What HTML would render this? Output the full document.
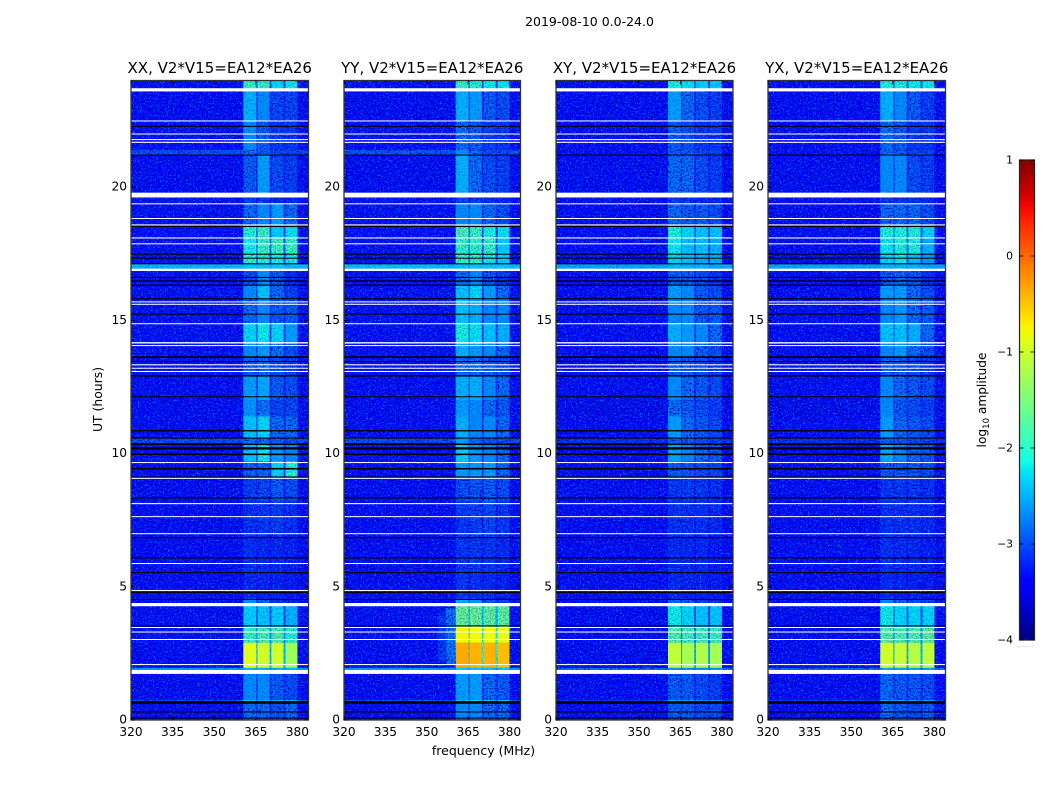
<!DOCTYPE html>
<html>
<head>
<meta charset="utf-8">
<title>2019-08-10 0.0-24.0</title>
<style>
html,body{margin:0;padding:0;background:#fff;width:1050px;height:800px;overflow:hidden}
svg{display:block}
text{font-family:"DejaVu Sans","Liberation Sans",sans-serif;fill:#000}
</style>
</head>
<body>
<svg id="fig" xmlns="http://www.w3.org/2000/svg" width="1050" height="800" viewBox="0 0 1050 800">
<defs>
<filter id="grainLight" x="0" y="0" width="1" height="1" color-interpolation-filters="sRGB">
<feTurbulence type="fractalNoise" baseFrequency="0.6" numOctaves="2" seed="4"/>
<feColorMatrix type="matrix" values="0 0 0 0 0  0 0 0 0 0.5  0 0 0 0 1  3 0 0 0 -1.4"/>
</filter>
<filter id="grainDark" x="0" y="0" width="1" height="1" color-interpolation-filters="sRGB">
<feTurbulence type="fractalNoise" baseFrequency="0.6" numOctaves="2" seed="11"/>
<feColorMatrix type="matrix" values="0 0 0 0 0  0 0 0 0 0  0 0 0 0 0.7  3 0 0 0 -1.3"/>
</filter>
<linearGradient id="jetGradient" x1="0" y1="1" x2="0" y2="0"></linearGradient>
</defs>
<text x="589.5" y="26" font-size="12.5" text-anchor="middle">2019-08-10 0.0-24.0</text>
<text x="483.5" y="755" font-size="12.5" text-anchor="middle">frequency (MHz)</text>
<text transform="translate(102,399.5) rotate(-90)" font-size="12.4" text-anchor="middle">UT (hours)</text>
<g id="panels"></g>
<g id="colorbar"></g>
<text transform="translate(986,400) rotate(-90)" font-size="12.2" text-anchor="middle">log<tspan font-size="8.5" dy="3">10</tspan><tspan dy="-3"> amplitude</tspan></text>
</svg>
<script>
const panelTitles = ["XX, V2*V15=EA12*EA26", "YY, V2*V15=EA12*EA26", "XY, V2*V15=EA12*EA26", "YX, V2*V15=EA12*EA26"];
const freqTicks = [320, 335, 350, 365, 380];
const timeTicks = [0, 5, 10, 15, 20];
const colorbarTicks = [1, 0, -1, -2, -3, -4];

// frequency cell edges (MHz) and which value column each cell reads: 0 off-band, 1-4 sub-bands, 5 gaps
const freqEdges = [320, 360.5, 365.2, 365.6, 370, 370.6, 375, 375.7, 380, 384];
const freqColumns = [0, 1, 5, 2, 5, 3, 5, 4, 0];

// time cell edges (hours)
const timeEdges = [0, 0.65, 0.75, 1.88, 1.96, 2.9, 3.5, 4.3, 4.55, 5.5, 7, 8.2, 9.1, 9.7, 10.4, 10.6, 11.4, 12, 12.9, 13.6, 14.1, 14.9, 15.8, 16.3, 16.94, 17.11, 17.5, 18.1, 18.55, 19.4, 19.75, 21.2, 21.4, 22.5, 23.65, 24];

// log10 amplitude per time row: off-band, band 1, band 2, band 3, band 4, gap
const valuesXX = [
[-3.4,-2.75,-2.75,-2.9,-2.75,-3.2],[-2.9,-2.3,-2.4,-2.4,-2.4,-2.9],[-3.4,-2.65,-2.65,-2.85,-2.95,-3.2],[-2.6,-2.4,-2.4,-2.4,-2.4,-2.6],
[-3.4,-0.9,-1.0,-1.0,-1.3,-2.4],[-3.35,-1.9,-1.8,-1.75,-2,-2.6],[-3.35,-2.3,-2.35,-2.3,-2.45,-3],[-3.4,-2.6,-2.8,-3.15,-3.25,-3.3],
[-3.4,-3.2,-3.25,-3.25,-3.3,-3.35],[-3.4,-3.15,-3.2,-3.2,-3.25,-3.35],[-3.4,-3.15,-3.1,-3.05,-3.15,-3.3],[-3.4,-3.05,-3,-2.85,-2.95,-3.25],
[-3.4,-2.8,-2.8,-2.25,-2.05,-3.1],[-3.35,-2.35,-2.15,-2.55,-2.65,-3.1],[-2.95,-2.75,-2.75,-2.85,-2.95,-3.1],[-3.4,-2.35,-2.25,-2.75,-2.75,-3.1],
[-3.45,-2.6,-2.7,-3,-3,-3.2],[-3.4,-2.55,-2.5,-2.85,-2.95,-3.2],[-3.35,-2.85,-2.75,-2.95,-3.05,-3.1],[-3.35,-2.65,-2.55,-2.75,-2.95,-3.1],
[-3.35,-2.25,-2.15,-2.25,-2.55,-3],[-3.35,-2.75,-2.65,-2.85,-2.85,-3.1],[-3.35,-2.65,-2.35,-2.75,-3.05,-3.1],[-3.35,-2.95,-2.65,-2.85,-3.2,-3.2],
[-2.4,-2.3,-2.3,-2.3,-2.4,-2.4],[-3.35,-2,-2,-2.1,-2.15,-2.95],[-3.35,-2.1,-1.85,-1.85,-1.9,-2.8],[-3.35,-2,-1.9,-2.3,-2.2,-2.9],
[-3.35,-2.75,-2.65,-2.55,-2.75,-3.1],[-3.35,-3.1,-3.1,-3.2,-3.2,-3.3],[-3.45,-2.85,-2.55,-2.95,-3.05,-3.2],[-2.95,-2.75,-2.85,-3,-3,-3],
[-3.35,-2.65,-2.85,-3.1,-3.1,-3.2],[-3.4,-2.45,-2.65,-3,-3,-3.2],[-3.35,-1.9,-1.9,-2.25,-2.15,-2.9]
];
const valuesYY = [
[-3.4,-2.65,-2.65,-2.75,-2.75,-3.1],[-2.9,-2.2,-2.2,-2.3,-2.3,-2.8],[-3.4,-2.55,-2.55,-2.75,-2.85,-3.1],[-2.6,-2.3,-2.3,-2.3,-2.3,-2.6],
[-3.4,-0.35,-0.4,-0.4,-0.45,-1.9],[-3.35,-0.75,-0.8,-0.8,-0.85,-2],[-3.35,-1.6,-1.6,-1.65,-1.65,-2.4],[-3.4,-2.45,-2.55,-2.85,-3.05,-3.2],
[-3.4,-3.1,-3.15,-3.2,-3.25,-3.3],[-3.4,-3.1,-3.1,-3.1,-3.2,-3.3],[-3.4,-3.1,-3.05,-3,-3.1,-3.3],[-3.4,-2.95,-2.9,-2.85,-2.95,-3.2],
[-3.4,-2.55,-2.55,-2.55,-2.75,-3.1],[-3.35,-2.25,-2.55,-2.65,-2.75,-3.1],[-2.95,-2.55,-2.75,-2.85,-2.95,-3.1],[-3.4,-2.45,-2.65,-2.65,-2.75,-3.1],
[-3.45,-2.55,-2.65,-2.75,-2.85,-3.2],[-3.4,-2.45,-2.45,-2.65,-2.75,-3.1],[-3.35,-2.75,-2.75,-2.85,-2.95,-3.1],[-3.35,-2.45,-2.55,-2.65,-2.75,-3.1],
[-3.35,-2.1,-2.2,-2.35,-2.45,-3],[-3.35,-2.35,-2.45,-2.65,-2.65,-3.1],[-3.35,-2.35,-2.25,-2.55,-2.75,-3.1],[-3.35,-2.75,-2.65,-2.85,-3.05,-3.2],
[-2.35,-2.3,-2.3,-2.3,-2.3,-2.35],[-3.35,-1.9,-1.9,-2.1,-2.25,-2.95],[-3.35,-1.95,-1.95,-1.9,-2.3,-2.8],[-3.35,-1.8,-1.9,-2.1,-2.2,-2.9],
[-3.35,-2.65,-2.65,-2.75,-2.95,-3.1],[-3.35,-3,-3.1,-3.2,-3.2,-3.3],[-3.45,-2.45,-2.75,-2.95,-3.05,-3.2],[-2.9,-2.65,-2.75,-2.95,-3,-3],
[-3.35,-2.75,-2.85,-3.05,-3.1,-3.2],[-3.4,-2.45,-2.55,-2.85,-2.95,-3.2],[-3.35,-1.9,-2,-2.15,-2.15,-2.9]
];
const valuesXY = [
[-3.45,-2.85,-2.85,-2.95,-2.95,-3.2],[-3.1,-2.5,-2.5,-2.6,-2.6,-3],[-3.45,-2.85,-2.85,-2.95,-3.05,-3.2],[-2.8,-2.6,-2.6,-2.6,-2.6,-2.8],
[-3.45,-1.1,-1.25,-1.2,-1.25,-2.5],[-3.4,-1.75,-1.85,-1.85,-1.9,-2.7],[-3.4,-2.15,-2.25,-2.35,-2.35,-3],[-3.45,-2.75,-2.85,-3.05,-3.1,-3.3],
[-3.45,-3.2,-3.25,-3.25,-3.3,-3.35],[-3.45,-3.2,-3.2,-3.2,-3.3,-3.35],[-3.45,-3.15,-3.15,-3.15,-3.2,-3.3],[-3.45,-3.1,-3.1,-3.1,-3.15,-3.3],
[-3.45,-2.85,-2.9,-2.95,-3,-3.2],[-3.4,-2.5,-2.65,-2.75,-2.85,-3.1],[-3.15,-2.85,-2.85,-2.95,-3.05,-3.1],[-3.45,-2.55,-2.75,-2.85,-2.95,-3.1],
[-3.5,-2.75,-2.85,-2.95,-3.05,-3.2],[-3.45,-2.65,-2.75,-2.85,-2.95,-3.2],[-3.4,-2.85,-2.85,-2.95,-3.05,-3.2],[-3.4,-2.65,-2.65,-2.85,-2.95,-3.1],
[-3.4,-2.45,-2.55,-2.65,-2.75,-3.1],[-3.4,-2.65,-2.65,-2.85,-2.85,-3.1],[-3.4,-2.55,-2.65,-2.85,-2.95,-3.1],[-3.4,-2.85,-2.85,-2.95,-3.15,-3.2],
[-2.5,-2.4,-2.4,-2.4,-2.5,-2.5],[-3.4,-2.25,-2.35,-2.45,-2.45,-3],[-3.4,-2.15,-2.35,-2.35,-2.45,-2.9],[-3.4,-2.05,-2.25,-2.35,-2.35,-2.9],
[-3.4,-2.75,-2.85,-2.85,-2.95,-3.1],[-3.4,-3.1,-3.15,-3.2,-3.2,-3.3],[-3.45,-2.75,-2.75,-2.95,-3.05,-3.2],[-3.35,-2.85,-2.85,-3,-3,-3.1],
[-3.4,-2.85,-2.95,-3.1,-3.1,-3.2],[-3.45,-2.55,-2.75,-2.95,-3.05,-3.2],[-3.4,-2.1,-2.2,-2.3,-2.3,-2.9]
];
const valuesYX = [
[-3.45,-2.75,-2.85,-2.95,-2.85,-3.2],[-3.1,-2.4,-2.5,-2.5,-2.5,-3],[-3.45,-2.75,-2.85,-2.85,-2.95,-3.2],[-2.8,-2.5,-2.5,-2.5,-2.5,-2.8],
[-3.45,-1,-1.05,-1.15,-1.1,-2.4],[-3.4,-1.7,-1.75,-1.75,-1.65,-2.6],[-3.4,-2.15,-2.25,-2.25,-2.25,-3],[-3.45,-2.65,-2.75,-2.95,-3.05,-3.3],
[-3.45,-3.2,-3.25,-3.25,-3.3,-3.35],[-3.45,-3.15,-3.2,-3.2,-3.25,-3.35],[-3.45,-3.15,-3.15,-3.15,-3.2,-3.3],[-3.45,-3.1,-3.1,-3.1,-3.15,-3.3],
[-3.45,-2.85,-2.85,-2.85,-2.95,-3.2],[-3.4,-2.45,-2.65,-2.75,-2.85,-3.1],[-3.15,-2.85,-2.85,-2.95,-3.05,-3.1],[-3.45,-2.55,-2.75,-2.85,-2.95,-3.1],
[-3.5,-2.65,-2.85,-2.95,-3.05,-3.2],[-3.45,-2.65,-2.75,-2.85,-2.95,-3.2],[-3.4,-2.85,-2.85,-2.95,-3.05,-3.2],[-3.4,-2.65,-2.55,-2.75,-2.95,-3.1],
[-3.4,-2.35,-2.35,-2.45,-2.75,-3.1],[-3.4,-2.65,-2.55,-2.75,-2.85,-3.1],[-3.4,-2.55,-2.55,-2.75,-2.95,-3.1],[-3.4,-2.85,-2.75,-2.85,-3.15,-3.2],
[-2.5,-2.4,-2.4,-2.4,-2.5,-2.5],[-3.4,-2.25,-2.15,-2.35,-2.55,-3],[-3.4,-2.15,-2.05,-2.05,-2.45,-2.9],[-3.4,-2.05,-2.05,-2.05,-2.25,-2.9],
[-3.4,-2.75,-2.75,-2.75,-2.95,-3.1],[-3.4,-3.1,-3.15,-3.2,-3.2,-3.3],[-3.45,-2.65,-2.65,-2.95,-3.05,-3.2],[-3.35,-2.75,-2.85,-3,-3,-3.1],
[-3.4,-2.75,-2.85,-3.1,-3.1,-3.2],[-3.45,-2.45,-2.65,-2.85,-3.05,-3.2],[-3.4,-2.05,-2.05,-2.15,-2.15,-2.9]
];
const panelValues = [valuesXX, valuesYY, valuesXY, valuesYX];

// faint spectral halo beside the band in YY while the source is up: [f0, f1, t0, t1, log10 amplitude]
const halosYY = [[354, 357, 2.2, 4, -3.1], [357, 360.5, 2.1, 4.2, -2.7]];

// flagged time ranges (hours), shared by all panels
const whiteFlags = [[23.59,23.71],[22.47,22.5],[21.99,22.01],[21.78,21.8],[21.66,21.7],[19.61,19.79],[19.36,19.39],[18.81,18.84],[18.56,18.6],[18.07,18.11],[17.86,17.89],[16.85,16.94],[15.68,15.71],[15.59,15.62],[14.86,14.89],[14.13,14.18],[14.04,14.07],[13.31,13.35],[13.19,13.22],[13.06,13.1],[9.65,9.68],[9.05,9.09],[8.1,8.14],[7.62,7.65],[6.99,7.01],[5.86,5.89],[4.85,4.88],[4.27,4.39],[3.46,3.49],[3.3,3.32],[3.01,3.04],[2.06,2.1],[1.73,1.88]];
const blackFlags = [[22.27,22.3],[21.19,21.22],[18.5,18.54],[17.47,17.5],[17.33,17.35],[17.11,17.14],[16.59,16.63],[16.45,16.5],[16.3,16.34],[15.79,15.83],[15.22,15.25],[13.59,13.65],[13.44,13.47],[12.89,12.94],[12.12,12.15],[10.83,10.88],[10.56,10.6],[10.32,10.38],[10.15,10.24],[9.94,10],[9.4,9.46],[9.1,9.14],[8.33,8.35],[6.84,6.86],[6.07,6.1],[5.52,5.55],[4.78,4.8],[4.51,4.54],[3.52,3.55],[0.61,0.71],[0.3,0.32],[0.06,0.09]];

// colour scale
const colorMin = -4;
const colorMax = 1;
const jetR = [[0,0],[0.35,0],[0.66,1],[0.89,1],[1,0.5]];
const jetG = [[0,0],[0.125,0],[0.375,1],[0.64,1],[0.91,0],[1,0]];
const jetB = [[0,0.5],[0.11,1],[0.34,1],[0.65,0],[1,0]];

const NS = "http://www.w3.org/2000/svg";
const panelBoxes = [[131,308.5],[344,520.5],[556,733],[768,945.5]];
const plotTop = 80.5, plotBottom = 720;
const freqMin = 320, freqMax = 384, timeMin = 0, timeMax = 24;

function xScale(box, f){ return box[0] + (f - freqMin) / (freqMax - freqMin) * (box[1] - box[0]); }
function yScale(t){ return plotBottom - (t - timeMin) / (timeMax - timeMin) * (plotBottom - plotTop); }
function ramp(stops, n){
  for (let i = 1; i < stops.length; i++) {
    if (n <= stops[i][0]) {
      const a = stops[i-1], b = stops[i];
      return a[1] + (b[1]-a[1]) * (n-a[0]) / (b[0]-a[0]);
    }
  }
  return stops[stops.length-1][1];
}
function jet(n){
  const c = Math.max(0, Math.min(1, n));
  return "rgb(" + Math.round(255*ramp(jetR,c)) + "," + Math.round(255*ramp(jetG,c)) + "," + Math.round(255*ramp(jetB,c)) + ")";
}
function colorOf(v){ return jet((v - colorMin) / (colorMax - colorMin)); }
function mk(tag, parent, attrs){
  const el = document.createElementNS(NS, tag);
  for (const k in attrs) el.setAttribute(k, attrs[k]);
  parent.appendChild(el);
  return el;
}

const panelsRoot = document.getElementById("panels");
panelBoxes.forEach(function(box, p){
  const pol = panelTitles[p].slice(0,2).toLowerCase();
  const g = mk("g", panelsRoot, {});
  
  
  const w = box[1] - box[0];
  const rows = panelValues[p];

  mk("rect", g, {x:box[0], y:plotTop, width:w, height:plotBottom-plotTop, fill:colorOf(-3.35)});

  // opacity of the repeat pass lets less of the noise grain through on brighter cells
  const draw = function(minV, maxV, opacity){
    rows.forEach(function(row, r){
      const y0 = yScale(timeEdges[r+1]), y1 = yScale(timeEdges[r]);
      freqColumns.forEach(function(col, c){
        const v = row[col];
        if (v <= minV || v > maxV) return;
        const x0 = xScale(box, freqEdges[c]), x1 = xScale(box, freqEdges[c+1]);
        const cell = mk("rect", g, {x:x0, y:y0, width:x1-x0, height:y1-y0, fill:colorOf(v), opacity:opacity});
        
        
      });
    });
  };
  draw(-99, 99, 1);
  if (p === 1) {
    halosYY.forEach(function(h){
      const halo = mk("rect", g, {x:xScale(box,h[0]), y:yScale(h[3]), width:xScale(box,h[1])-xScale(box,h[0]), height:yScale(h[2])-yScale(h[3]), fill:colorOf(h[4])});
      
      
    });
  }
  const grainA = mk("rect", g, {x:box[0], y:plotTop, width:w, height:plotBottom-plotTop, filter:"url(#grainLight)"});
  
  
  const grainB = mk("rect", g, {x:box[0], y:plotTop, width:w, height:plotBottom-plotTop, filter:"url(#grainDark)"});
  
  
  draw(-2.7, -1.5, 0.65);
  draw(-1.5, 99, 1);

  whiteFlags.forEach(function(fl){
    const flag = mk("rect", g, {x:box[0], y:yScale(fl[1]), width:w, height:Math.max(yScale(fl[0])-yScale(fl[1]),1), fill:"#fff"});
    
    
  });
  blackFlags.forEach(function(fl){
    const flag = mk("rect", g, {x:box[0], y:yScale(fl[1]), width:w, height:Math.max(yScale(fl[0])-yScale(fl[1]),1), fill:"#000"});
    
    
  });

  const frame = mk("rect", g, {x:box[0], y:plotTop, width:w, height:plotBottom-plotTop, fill:"none", stroke:"#333", "stroke-width":1.3});
  
  

  freqTicks.forEach(function(f){
    const x = xScale(box, f);
    const t1 = mk("line", g, {x1:x, x2:x, y1:plotBottom, y2:plotBottom-4, stroke:"#000", "stroke-width":0.8});
    
    
    const t2 = mk("line", g, {x1:x, x2:x, y1:plotTop, y2:plotTop+4, stroke:"#000", "stroke-width":0.8});
    
    
    const lab = mk("text", g, {x:x, y:736, "font-size":"12.2", "text-anchor":"middle"});
    lab.textContent = f;
    
    
  });
  timeTicks.forEach(function(t){
    const y = yScale(t);
    const t1 = mk("line", g, {x1:box[0], x2:box[0]+4, y1:y, y2:y, stroke:"#000", "stroke-width":0.8});
    
    
    const t2 = mk("line", g, {x1:box[1], x2:box[1]-4, y1:y, y2:y, stroke:"#000", "stroke-width":0.8});
    
    
    const lab = mk("text", g, {x:box[0]-4, y:y+3.5, "font-size":"12.2", "text-anchor":"end"});
    lab.textContent = t;
    
    
  });
  const title = mk("text", g, {x:(box[0]+box[1])/2, y:73, "font-size":"15", "text-anchor":"middle"});
  title.textContent = panelTitles[p];
  
  
});

// colorbar
const grad = document.getElementById("jetGradient");
for (let i = 0; i <= 40; i++) {
  mk("stop", grad, {offset:(i/40), "stop-color":jet(i/40)});
}
const cbRoot = document.getElementById("colorbar");
const cbX0 = 1019.5, cbX1 = 1034.5, cbTop = 160, cbBottom = 640;
function cbScale(v){ return cbBottom - (v - colorMin) / (colorMax - colorMin) * (cbBottom - cbTop); }
const cbBar = mk("rect", cbRoot, {x:cbX0, y:cbTop, width:cbX1-cbX0, height:cbBottom-cbTop, fill:"url(#jetGradient)", stroke:"#222", "stroke-width":1.2});


colorbarTicks.forEach(function(v){
  const y = cbScale(v);
  const a = mk("line", cbRoot, {x1:cbX0, x2:cbX0+4, y1:y, y2:y, stroke:"#000", "stroke-width":0.8});
  
  
  const b = mk("line", cbRoot, {x1:cbX1, x2:cbX1-4, y1:y, y2:y, stroke:"#000", "stroke-width":0.8});
  
  
  const lab = mk("text", cbRoot, {x:1013, y:y+3.5, "font-size":"10.8", "text-anchor":"end"});
  lab.textContent = v < 0 ? "\u2212" + Math.abs(v) : String(v);
  
  
});
const cbDots = mk("text", cbRoot, {x:1026, y:647, "font-size":"6", "text-anchor":"middle", style:"fill:#888;letter-spacing:1px"});
cbDots.textContent = "......";


</script>
</body>
</html>
